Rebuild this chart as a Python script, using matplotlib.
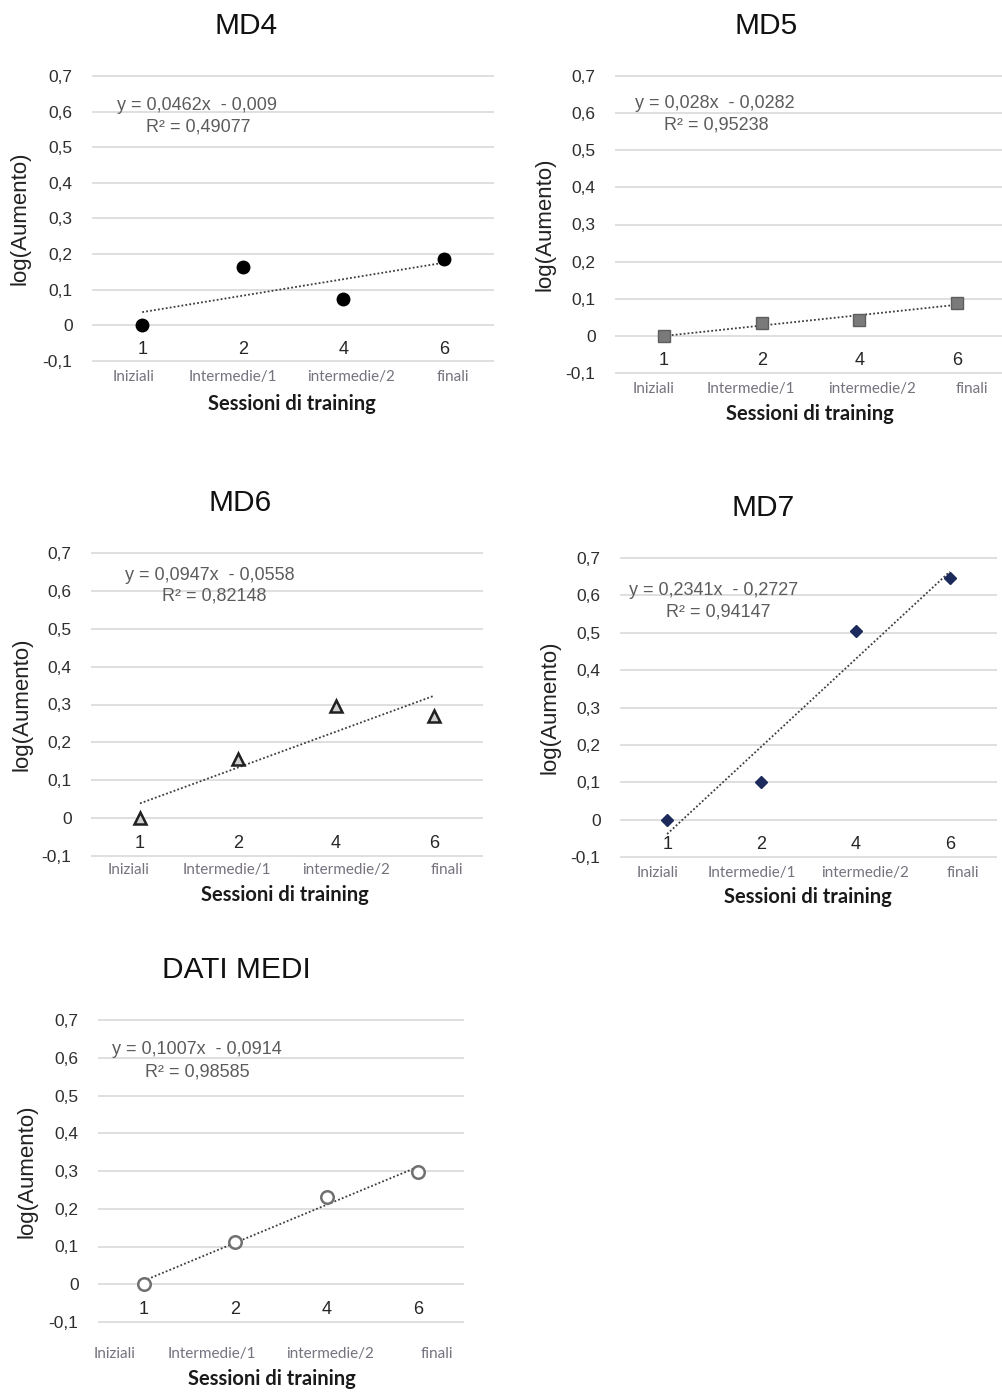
import matplotlib
matplotlib.use("Agg")
import matplotlib.pyplot as plt

# dati
sessions = ["1", "2", "4", "6"]
phases = ["Iniziali", "Intermedie/1", "intermedie/2", "finali"]

md4 = [0.0, 0.163, 0.075, 0.185]
md5 = [0.0, 0.036, 0.044, 0.088]
md6 = [0.0, 0.155, 0.297, 0.270]
md7 = [0.0, 0.100, 0.505, 0.647]
medi = [0.0, 0.113, 0.232, 0.297]

titles = ["MD4", "MD5", "MD6", "MD7", "DATI MEDI"]
slopes = [0.0462, 0.028, 0.0947, 0.2341, 0.1007]
intercepts = [-0.009, -0.0282, -0.0558, -0.2727, -0.0914]
r2_values = [0.49077, 0.95238, 0.82148, 0.94147, 0.98585]

yticks = [-0.1, 0, 0.1, 0.2, 0.3, 0.4, 0.5, 0.6, 0.7]

W, H = 1002, 1392
fig = plt.figure(figsize=(W / 100, H / 100), dpi=100)

SANS = "Liberation Sans"
CAL = "Lato"

# layout in pixel: (left, right, y@0.7, y@-0.1), titolo, ylabel, equazione, xlabel, sottoetichette
layout = [
    dict(box=(92, 494, 76, 361), title=(246, 26), ylab=20, eq=(117, 106), r2=(146, 127),
         xlab=(292, 404), sub_gap=16, sub_dx=[-0.09, -0.1, 0.08, 0.09]),
    dict(box=(615, 1006, 76, 373), title=(766, 26), ylab=545, eq=(635, 103), r2=(664, 125),
         xlab=(810, 414), sub_gap=16, sub_dx=[-0.11, -0.11, 0.13, 0.15]),
    dict(box=(91, 483, 553, 856), title=(240, 503), ylab=22, eq=(125, 575), r2=(162, 596),
         xlab=(285, 895), sub_gap=14, sub_dx=[-0.12, -0.11, 0.1, 0.13]),
    dict(box=(620, 997, 558, 857), title=(763, 508), ylab=550, eq=(629, 590), r2=(666, 612),
         xlab=(808, 897), sub_gap=16, sub_dx=[-0.1, -0.1, 0.1, 0.14]),
    dict(box=(98, 464, 1020, 1322), title=(236, 970), ylab=27, eq=(112, 1050), r2=(145, 1072),
         xlab=(272, 1379), sub_gap=32, sub_dx=[-0.32, -0.26, 0.04, 0.2]),
]

series = [md4, md5, md6, md7, medi]
markers = [
    dict(marker="o", ms=9, mfc="black", mec="black", mew=1),
    dict(marker="s", ms=8, mfc="#7a7a7a", mec="#5e5e5e", mew=1),
    dict(marker="^", ms=8, mfc="#d0d0d0", mec="#202020", mew=1.8),
    dict(marker="D", ms=6, mfc="#1c2a5c", mec="#1c2a5c", mew=1),
    dict(marker="o", ms=9, mfc="white", mec="#707070", mew=1.8),
]


def fmt(v):
    return f"{abs(v)}".replace(".", ",")


pad = 0.012
for k in range(5):
    L = layout[k]
    left, right, top, bot = L["box"]
    ppu = (bot - top) / 0.8
    ax_top = top - pad * ppu
    ax_bot = bot + pad * ppu
    ax = fig.add_axes([left / W, 1 - ax_bot / H, (right - left) / W, (ax_bot - ax_top) / H])
    ax.set_xlim(0.5, 4.5)
    ax.set_ylim(-0.1 - pad, 0.7 + pad)
    for s in ax.spines.values():
        s.set_visible(False)
    ax.set_yticks(yticks)
    ax.set_yticklabels([fmt(t) if t >= 0 else "-" + fmt(t) for t in yticks],
                       family=SANS, fontsize=12.5, color="#2e2e2e")
    ax.tick_params(axis="y", length=0, pad=14)
    ax.set_xticks([])
    ax.grid(axis="y", color="#d9d9d9", lw=1.2)
    ax.set_axisbelow(True)

    x = [1, 2, 3, 4]
    trend = [slopes[k] * xi + intercepts[k] for xi in x]
    ax.plot([x[0], x[-1]], [trend[0], trend[-1]], ls=(0, (1, 1.2)), color="#3c3c3c", lw=1.3,
            zorder=2)
    ax.plot(x, series[k], ls="none", zorder=3, clip_on=False, **markers[k])

    for i in range(4):
        ax.text(x[i], -0.067, sessions[i], ha="center", va="center", family=SANS,
                fontsize=13, color="#262626")
        ax.text(x[i] + L["sub_dx"][i], -0.1 - L["sub_gap"] / ppu, phases[i], ha="center",
                va="center", family=CAL, fontsize=11, color="#76727e")

    fig.text(L["title"][0] / W, 1 - L["title"][1] / H, titles[k], ha="center", va="center",
             family=SANS, fontsize=21.5, color="#111111")
    fig.text(L["ylab"] / W, 1 - (top + bot) / 2 / H, "log(Aumento)", rotation=90, ha="center",
             va="center", family=SANS, fontsize=16, color="#222222")
    fig.text(L["xlab"][0] / W, 1 - L["xlab"][1] / H, "Sessioni di training", ha="center",
             va="center", family=CAL, fontweight="bold", fontsize=14.5, color="#1a1a1a")

    eq = f"y = {fmt(slopes[k])}x  - {fmt(intercepts[k])}"
    fig.text(L["eq"][0] / W, 1 - L["eq"][1] / H, eq, ha="left", va="center", family=SANS,
             fontsize=13, color="#5c5c5c")
    fig.text(L["r2"][0] / W, 1 - L["r2"][1] / H, f"R² = {fmt(r2_values[k])}", ha="left",
             va="center", family=SANS, fontsize=13, color="#5c5c5c")

fig.savefig("out.png", dpi=100, facecolor="white")
